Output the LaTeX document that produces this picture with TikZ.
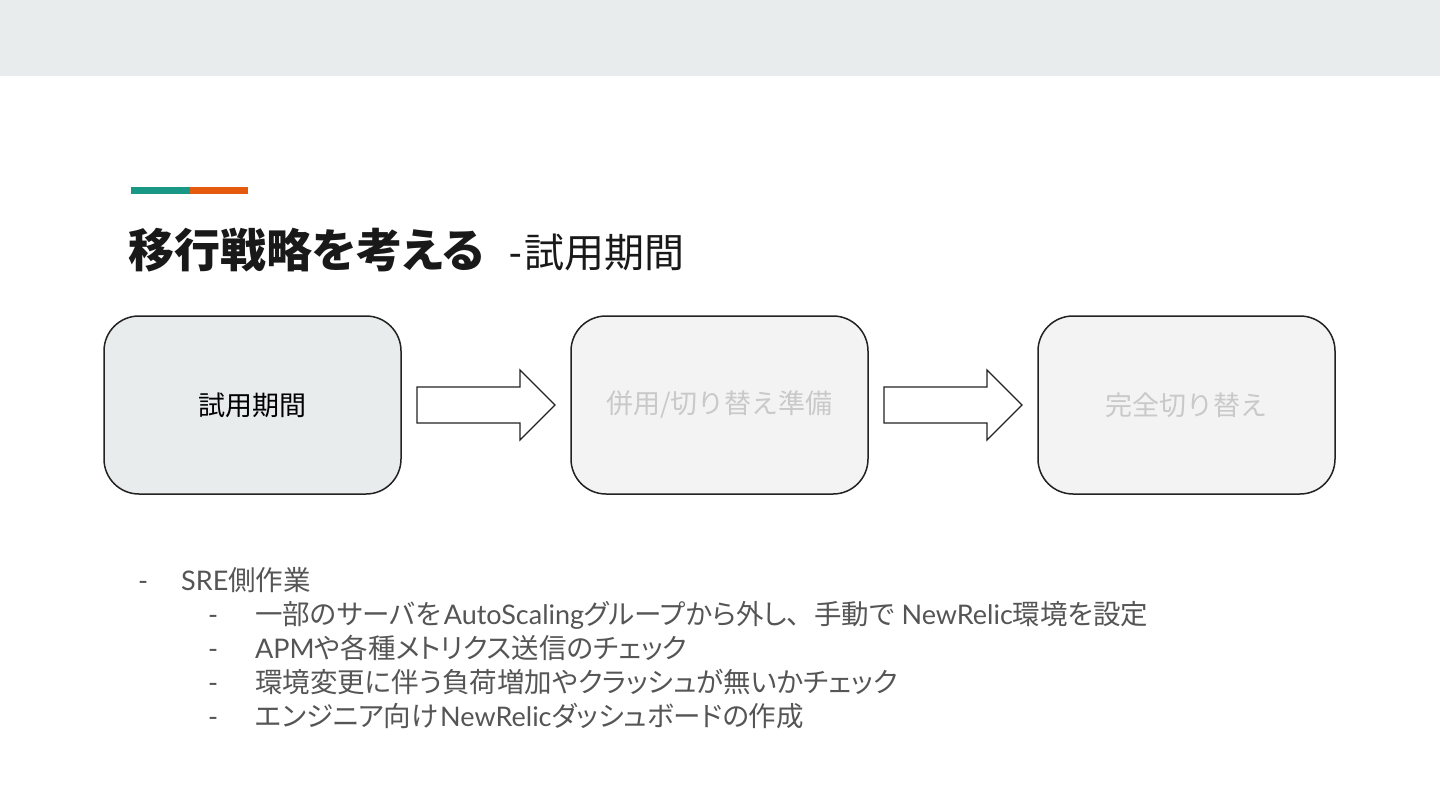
\documentclass[tikz,border=0pt]{standalone}
\usepackage{fontspec}
\setmainfont{Lato}
\newfontfamily\jp[RawFeature=+palt]{Noto Sans CJK JP}
\newfontfamily\jpfixed{Noto Sans CJK JP}
\usetikzlibrary{positioning,calc}

\definecolor{band}{HTML}{E8ECEC}
\definecolor{teal}{HTML}{1A9886}
\definecolor{accent}{HTML}{E65A0E}
\definecolor{stagegray}{HTML}{F3F3F3}
\definecolor{fadedtext}{HTML}{C9C9C9}
\definecolor{listgray}{HTML}{555555}
\definecolor{edge}{HTML}{222222}

\newcommand\jtext[1]{{\jp\fontsize{27.5}{34}\selectfont #1}}
\newcommand\jcomma{{\jpfixed\fontsize{27.5}{34}\selectfont 、}}

\tikzset{
  stage/.style={draw=edge, line width=1.5pt, rounded corners=35pt, minimum width=297pt,
    minimum height=178pt, outer sep=0pt, font=\jpfixed\fontsize{27}{30}\selectfont},
  later/.style={stage, fill=stagegray, text=fadedtext},
  listline/.style={anchor=base west, inner sep=0pt, text=listgray, font=\fontsize{27}{34}\selectfont},
  blockarrow/.style={draw=edge, line width=1.3pt, fill=white},
}

\begin{document}
\begin{tikzpicture}[x=1pt,y=-1pt]
\useasboundingbox (0,0) rectangle (1440,810);
\fill[white] (0,0) rectangle (1440,810);
\fill[band] (0,0) rectangle (1440,76);%top band

\fill[teal] (131,187) rectangle (190,194);
\fill[accent] (190,187) rectangle (248,194);

\node [anchor=base west, inner sep=0pt, text=black!90, font=\jp\bfseries\fontsize{46}{52}\selectfont](title) at (128,268) {移行戦略を考える};
\node [anchor=base west, inner sep=0pt, text=black!90, font=\fontsize{39}{44}\selectfont](subtitle) at (508,268) {-\kern2pt{\jpfixed\fontsize{40}{44}\selectfont 試用期間}};

\node [stage, fill=band, text=black](trial) at (252.5,405) {試用期間};
\node [later, right=170pt of trial](both) {併用/切り替え準備};
\node [later, right=170pt of both](full) {完全切り替え};

\foreach \a/\b in {trial/both, both/full}
  \draw [blockarrow] ($(\a.east)+(16,-18)$) -- ($(\b.west)+(-51,-18)$) -- ($(\b.west)+(-51,-35)$)
    -- ($(\b.west)+(-16,0)$) -- ($(\b.west)+(-51,35)$) -- ($(\b.west)+(-51,18)$)
    -- ($(\a.east)+(16,18)$) -- cycle;

\node [listline](dash0) at (138,590) {-};
\node [listline](sre) at (181,590) {SRE\jtext{側作業}};
\node [listline](dash1) at (208,624) {-};
\node [listline](item1) at (255,624) {\jtext{一部のサーバを}\kern3pt AutoScaling\jtext{グループから外し}\jcomma\jtext{手動で} NewRelic\jtext{環境を設定}};
\node [listline](dash2) at (208,658) {-};
\node [listline](item2) at (255,658) {APM\jtext{や各種メトリクス送信のチェック}};
\node [listline](dash3) at (208,692) {-};
\node [listline](item3) at (255,692) {\jtext{環境変更に伴う負荷増加やクラッシュが無いかチェック}};
\node [listline](dash4) at (208,726) {-};
\node [listline](item4) at (255,726) {\jtext{エンジニア向け}\kern2pt NewRelic\jtext{ダッシュボードの作成}};
\end{tikzpicture}
\end{document}
